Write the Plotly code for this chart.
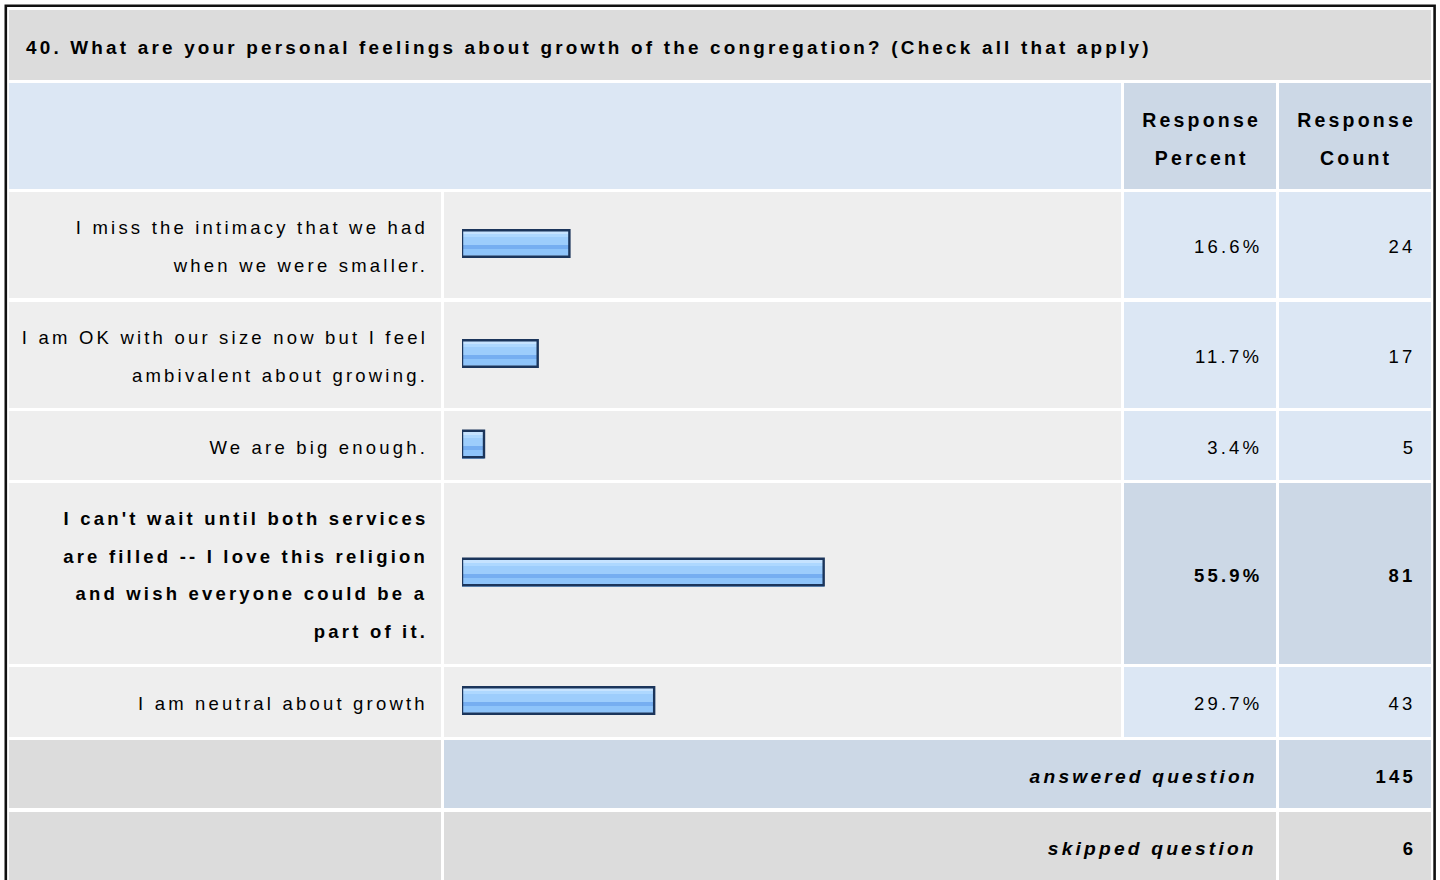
import plotly.graph_objects as go

# ---------------- data ----------------
title = "40. What are your personal feelings about growth of the congregation? (Check all that apply)"
answers = [
    "I miss the intimacy that we had<br>when we were smaller.",
    "I am OK with our size now but I feel<br>ambivalent about growing.",
    "We are big enough.",
    "I can't wait until both services<br>are filled -- I love this religion<br>and wish everyone could be a<br>part of it.",
    "I am neutral about growth",
]
percents = [16.6, 11.7, 3.4, 55.9, 29.7]
counts = [24, 17, 5, 81, 43]
col_headers = ["Response<br>Percent", "Response<br>Count"]
answered_label = "answered question"
skipped_label = "skipped question"
answered = 145
skipped = 6

# ---------------- layout geometry (page pixels) ----------------
W, H = 1440, 880
row_tops = [192, 302, 411, 483, 667]
row_bots = [298, 408, 480, 664, 737]
COL_LABEL = (9, 441)
COL_BAR = (444, 1121)
COL_PCT = (1124, 1276)
COL_CNT = (1279, 1431)
LINE_PITCH = 37.5
FONT = "Liberation Sans, Arial, Helvetica, sans-serif"
FS = 18.5
LS = 3.2      # letter spacing (px)

GREY = "#dcdcdc"
LIGHT = "#eeeeee"
BLUE = "#dce7f4"
BLUE2 = "#ccd8e6"

top_idx = counts.index(max(counts))

fig = go.Figure()
shapes = []
annos = []


def rect(x0, y0, x1, y1, color):
    shapes.append(dict(type="rect", xref="x", yref="y", x0=x0, x1=x1, y0=y0, y1=y1,
                       fillcolor=color, line=dict(width=0), layer="below"))


def text(x, y, s, bold=False, italic=False, anchor="right", size=FS):
    if anchor == "right":
        x = x + LS + 2
    elif anchor == "left":
        x = x - 2
    else:
        x = x + LS / 2
    annos.append(dict(xref="x", yref="y", x=x, y=y, text=s, showarrow=False,
                      xanchor=anchor, yanchor="middle", align=anchor,
                      font=dict(family=FONT, size=size, color="#000",
                                weight="bold" if bold else "normal",
                                style="italic" if italic else "normal")))


# title row
rect(9, 10, 1431, 80, GREY)
text(26, 47, title, bold=True, anchor="left", size=18.9)

# header row
rect(9, 83, 1121, 189, BLUE)
rect(COL_PCT[0], 83, COL_PCT[1], 189, BLUE2)
rect(COL_CNT[0], 83, COL_CNT[1], 189, BLUE2)
for (c0, c1), hdr in zip([COL_PCT, COL_CNT], col_headers):
    lines = hdr.split("<br>")
    for k, ln in enumerate(lines):
        text((c0 + c1) / 2, 139 + (k - (len(lines) - 1) / 2) * LINE_PITCH, ln,
             bold=True, anchor="center", size=19.5)

# data rows
centers = []
for i, (t0, t1) in enumerate(zip(row_tops, row_bots)):
    hl = i == top_idx
    rect(COL_LABEL[0], t0, COL_LABEL[1], t1, LIGHT)
    rect(COL_BAR[0], t0, COL_BAR[1], t1, LIGHT)
    rect(COL_PCT[0], t0, COL_PCT[1], t1, BLUE2 if hl else BLUE)
    rect(COL_CNT[0], t0, COL_CNT[1], t1, BLUE2 if hl else BLUE)
    c = (t0 + t1) / 2 + 1.5
    centers.append((t0 + t1) / 2 - 1.5)
    lines = answers[i].split("<br>")
    for k, ln in enumerate(lines):
        text(425, c + (k - (len(lines) - 1) / 2) * LINE_PITCH, ln, bold=hl)
    text(1259, c, f"{percents[i]:.1f}%", bold=hl)
    text(1413, c, f"{counts[i]}", bold=hl)

# summary rows
rect(COL_LABEL[0], 740, COL_LABEL[1], 808, GREY)
rect(COL_BAR[0], 740, COL_PCT[1], 808, BLUE2)
rect(COL_CNT[0], 740, COL_CNT[1], 808, BLUE2)
text(1255, 776, answered_label, bold=True, italic=True, size=19.2)
text(1413, 776, f"{answered}", bold=True)

rect(COL_LABEL[0], 812, COL_LABEL[1], 900, GREY)
rect(COL_BAR[0], 812, COL_PCT[1], 900, GREY)
rect(COL_CNT[0], 812, COL_CNT[1], 900, GREY)
text(1254, 848, skipped_label, bold=True, italic=True, size=19.2)
text(1413, 848, f"{skipped}", bold=True)

# outer border (paper coordinates)
shapes.append(dict(type="rect", xref="paper", yref="paper",
                   x0=5.8 / W, x1=1434.6 / W, y0=1 - 5.8 / H, y1=-0.05,
                   fillcolor="rgba(0,0,0,0)", line=dict(color="#111", width=2.6), layer="above"))

# ---------------- bars ----------------
BAR_H = 29
fig.add_trace(go.Bar(x=percents, y=centers, orientation="h", width=BAR_H,
                     offset=-BAR_H / 2, marker=dict(color="#9dcdfc", line=dict(width=0)),
                     xaxis="x2", yaxis="y", hoverinfo="skip", showlegend=False))
stripes = [(2, 3, "#c6e3ff"), (5, 3, "#aed8ff"), (16, 4, "#76aef1"), (20, 6, "#8ec4fa")]
for off, h, col in stripes:
    fig.add_trace(go.Bar(x=percents, y=centers, orientation="h", width=h,
                         offset=-BAR_H / 2 + off, marker=dict(color=col, line=dict(width=0)),
                         xaxis="x2", yaxis="y", hoverinfo="skip", showlegend=False))
fig.add_trace(go.Bar(x=percents, y=centers, orientation="h", width=BAR_H - 2.4,
                     offset=-BAR_H / 2 + 1.2,
                     marker=dict(color="rgba(0,0,0,0)", line=dict(color="#1b355b", width=2.4)),
                     xaxis="x2", yaxis="y", hoverinfo="skip", showlegend=False))

BAR_X0 = 462
PX_PER_PCT = 6.47
fig.update_layout(
    width=W, height=H, margin=dict(l=0, r=0, t=0, b=0),
    paper_bgcolor="white", plot_bgcolor="rgba(0,0,0,0)",
    barmode="overlay", bargap=0,
    xaxis=dict(domain=[0, 1], range=[0, W], visible=False, fixedrange=True),
    xaxis2=dict(domain=[BAR_X0 / W, (BAR_X0 + 100 * PX_PER_PCT) / W],
                range=[0, 100], visible=False, anchor="y", fixedrange=True),
    yaxis=dict(domain=[0, 1], range=[H, 0], visible=False, fixedrange=True),
    shapes=shapes, annotations=annos,
)

post = """
document.body.style.margin = '0';
var gd = document.getElementById('{plot_id}');
gd.querySelectorAll('.annotation-text').forEach(function(t){
  t.style.letterSpacing = '%spx';
});
""" % LS
fig.write_html("out.html", post_script=post, config={"staticPlot": True})
